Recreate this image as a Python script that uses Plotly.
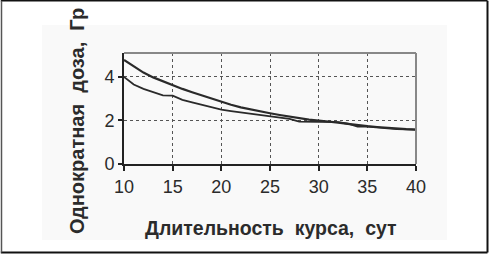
import plotly.graph_objects as go

days = list(range(10, 41))
dose_upper = [4.78, 4.50, 4.20, 3.98, 3.80, 3.62, 3.45, 3.30, 3.15, 3.00, 2.85,
              2.72, 2.60, 2.50, 2.42, 2.33, 2.25, 2.17, 2.10, 2.04, 2.00,
              1.96, 1.90, 1.84, 1.78, 1.74, 1.70, 1.66, 1.63, 1.60, 1.58]
dose_lower = [4.00, 3.65, 3.45, 3.30, 3.15, 3.14, 2.95, 2.83, 2.72, 2.60, 2.50,
              2.43, 2.37, 2.32, 2.27, 2.22, 2.15, 2.07, 1.95, 1.95, 1.95,
              1.95, 1.92, 1.85, 1.72, 1.72, 1.68, 1.62, 1.60, 1.59, 1.58]
x_ticks = [10, 15, 20, 25, 30, 35, 40]
y_ticks = [0, 2, 4]
x_title = "Длительность\u00a0 курса,\u00a0 сут"
y_title = "Однократная\u00a0 доза,\u00a0 Гр"

W, H = 489, 254
L, R, T, B = 124, 73, 53, 90
pw, ph = W - L - R, H - T - B

def px(x):
    return (x - L) / pw

def py(y):
    return (H - B - y) / ph

fig = go.Figure()
fig.add_trace(go.Scatter(x=days, y=dose_upper, mode="lines",
                         line=dict(color="#2a2a2a", width=2.2), showlegend=False))
fig.add_trace(go.Scatter(x=days, y=dose_lower, mode="lines",
                         line=dict(color="#2a2a2a", width=1.8), showlegend=False))

font = dict(family="Liberation Sans, Arial, sans-serif", color="#2b2b2b")

def seg(x0, y0, x1, y1, color, width):
    return dict(type="line", xref="paper", yref="paper",
                x0=px(x0), y0=py(y0), x1=px(x1), y1=py(y1),
                line=dict(color=color, width=width))

fig.update_layout(
    width=W, height=H,
    margin=dict(l=L, r=R, t=T, b=B),
    paper_bgcolor="white", plot_bgcolor="white",
    font=dict(**font, size=18),
    xaxis=dict(range=[10, 40], tickvals=x_ticks, ticks="outside", ticklen=5,
               tickwidth=1.5, tickcolor="#222", showline=True, linecolor="#222",
               linewidth=2, showgrid=True, gridcolor="#555", gridwidth=1,
               griddash="3px,3px", zeroline=False, tickfont=dict(size=18)),
    yaxis=dict(range=[0, 5.1], tickvals=y_ticks, ticks="outside", ticklen=4,
               tickwidth=1.5, tickcolor="#222", showline=True, linecolor="#222",
               linewidth=2, showgrid=True, gridcolor="#555", gridwidth=1,
               griddash="3px,3px", zeroline=False, tickfont=dict(size=18)),
    shapes=[
        dict(type="rect", xref="paper", yref="paper", layer="below",
             x0=px(42), x1=px(447), y0=py(240), y1=py(25),
             fillcolor="#f9f9f9", line=dict(width=0, color="rgba(0,0,0,0)")),
        seg(0.8, 0.8, 487.5, 0.8, "#111", 1.5),
        seg(0.8, 252.5, 487.5, 252.5, "#111", 2),
        seg(1.5, 0.8, 1.5, 252.5, "#555", 1.5),
        seg(487.5, 0.8, 487.5, 252.5, "#111", 2),
        dict(type="line", xref="paper", yref="paper", x0=0, x1=1, y0=1, y1=1,
             line=dict(color="#888", width=2)),
        dict(type="line", xref="paper", yref="paper", x0=1, x1=1, y0=0, y1=1,
             line=dict(color="#888", width=2)),
    ],
    annotations=[
        dict(text="<b>" + x_title + "</b>", xref="paper", yref="paper",
             x=px(271), y=py(228), showarrow=False,
             font=dict(**font, size=19.5), xanchor="center", yanchor="middle"),
        dict(text="<b>" + y_title + "</b>", xref="paper", yref="paper",
             x=px(77), y=py(121), showarrow=False, textangle=-90,
             font=dict(**font, size=20), xanchor="center", yanchor="middle"),
    ],
)

fig.write_html("out.html", config={"displayModeBar": False},
               post_script="document.body.style.margin='0';")
